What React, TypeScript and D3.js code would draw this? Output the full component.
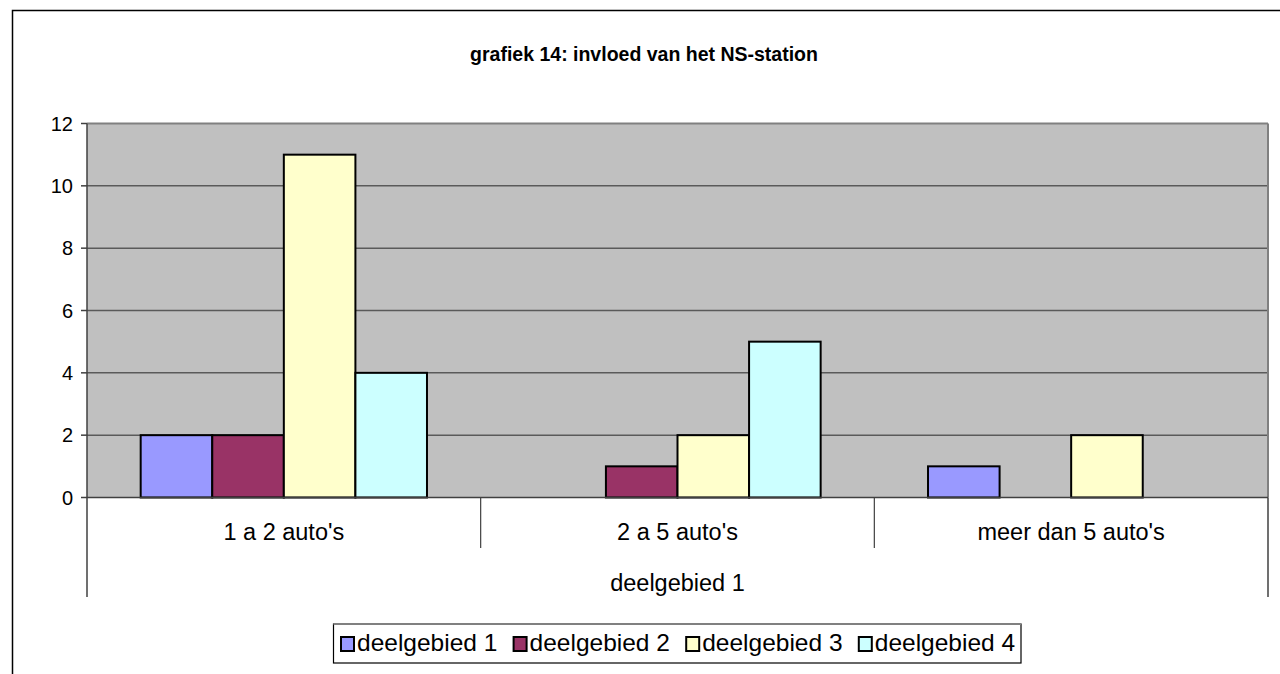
import React from "react";
import * as d3 from "d3";

const categories = ["1 a 2 auto's", "2 a 5 auto's", "meer dan 5 auto's"];
const groupLabel = "deelgebied 1";
const seriesNames = ["deelgebied 1", "deelgebied 2", "deelgebied 3", "deelgebied 4"];
const seriesColors = ["#9999FF", "#993366", "#FFFFCC", "#CCFFFF"];
const values = [
  [2, 0, 1],
  [2, 1, 0],
  [11, 2, 2],
  [4, 5, 0],
];
const yTicks = [0, 2, 4, 6, 8, 10, 12];
const title = "grafiek 14: invloed van het NS-station";

export default function App() {
  const W = 1280, H = 674;
  const left = 87, right = 1268, top = 123.5, bottom = 497.5;
  const y = d3.scaleLinear().domain([0, 12]).range([bottom, top]);
  const x0 = d3.scaleBand().domain(categories).range([left, right]).paddingInner(0).paddingOuter(0);
  const bw = x0.bandwidth();
  const barW = bw / (seriesNames.length + 1.5);
  const font = "Arial, 'Liberation Sans', sans-serif";

  return (
    <svg width={W} height={H} style={{ position: "absolute", left: 0, top: 0 }} fontFamily={font}>
      <rect x={0} y={0} width={W} height={H} fill="#fff" />
      <path d={`M12.5,${H} L12.5,10.5 L${W},10.5`} fill="none" stroke="#000" strokeWidth={1.5} />
      <text x={644} y={61} textAnchor="middle" fontWeight="bold" fontSize={19.5}>{title}</text>
      <rect x={left} y={top} width={right - left} height={bottom - top} fill="#C0C0C0" />
      {yTicks.filter(t => t > 0 && t < 12).map(t => (
        <line key={t} x1={left} x2={right} y1={y(t)} y2={y(t)} stroke="#5a5a5a" strokeWidth={1.5} />
      ))}
      <line x1={left} x2={right} y1={top} y2={top} stroke="#808080" strokeWidth={2} />
      <line x1={right} x2={right} y1={top} y2={bottom} stroke="#808080" strokeWidth={2} />
      {values.map((vals, si) =>
        categories.map((c, ci) => {
          const v = vals[ci];
          if (!v) return null;
          const bx = (x0(c) as number) + barW * 0.75 + si * barW;
          return (
            <rect key={si + "-" + ci} x={bx} y={y(v)} width={barW} height={y(0) - y(v)}
              fill={seriesColors[si]} stroke="#000" strokeWidth={2} />
          );
        })
      )}
      <line x1={left} x2={right} y1={bottom} y2={bottom} stroke="#404040" strokeWidth={1.5} />
      <line x1={left} x2={left} y1={top} y2={597} stroke="#404040" strokeWidth={1.5} />
      <line x1={right} x2={right} y1={bottom} y2={597} stroke="#404040" strokeWidth={1.5} />
      {categories.slice(1).map(c => (
        <line key={c} x1={x0(c) as number} x2={x0(c) as number} y1={bottom} y2={548} stroke="#404040" strokeWidth={1.2} />
      ))}
      {yTicks.map(t => (
        <g key={t}>
          <line x1={left - 6} x2={left} y1={y(t)} y2={y(t)} stroke="#404040" strokeWidth={1.5} />
          <text x={73} y={y(t) + 7} textAnchor="end" fontSize={20}>{t}</text>
        </g>
      ))}
      {categories.map(c => (
        <text key={c} x={(x0(c) as number) + bw / 2} y={540} textAnchor="middle" fontSize={23.5}>{c}</text>
      ))}
      <text x={(left + right) / 2} y={591} textAnchor="middle" fontSize={23.5}>{groupLabel}</text>
      <rect x={333.5} y={624} width={687.5} height={39} fill="#fff" stroke="#000" strokeWidth={1.2} />
      <line x1={333.5} x2={1021} y1={624} y2={624} stroke="#808080" strokeWidth={2} />
      {seriesNames.map((s, i) => {
        const lx = 341 + i * 172.6;
        return (
          <g key={s}>
            <rect x={lx} y={637} width={13} height={14} fill={seriesColors[i]} stroke="#000" strokeWidth={2} />
            <text x={lx + 16} y={651} fontSize={24.5}>{s}</text>
          </g>
        );
      })}
    </svg>
  );
}
